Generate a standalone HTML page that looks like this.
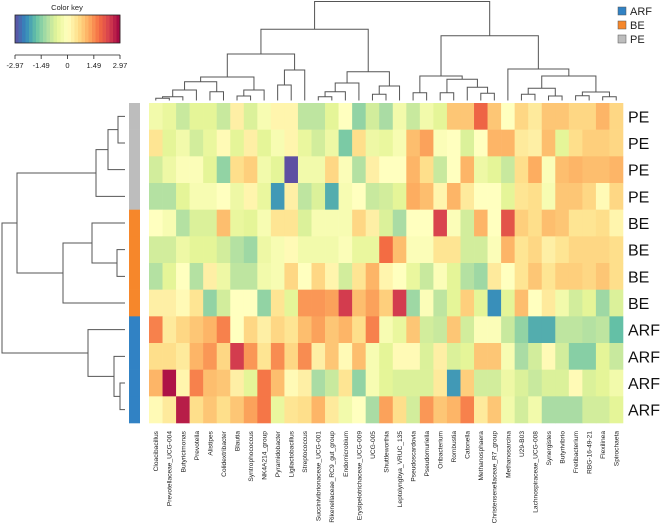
<!DOCTYPE html>
<html><head><meta charset="utf-8"><style>
html,body{margin:0;padding:0;background:#fff;}
svg{display:block;font-family:"Liberation Sans",sans-serif;}
</style></head><body>
<svg id="chart" width="669" height="525" viewBox="0 0 669 525" xmlns="http://www.w3.org/2000/svg"></svg>
<script>
const columns=["Cloacibacillus","Prevotellaceae_UCG-004","Butyricimonas","Prevotella","Alistipes","Colidextribacter","Blautia","Syntrophococcus","NK4A214_group","Pyramidobacter","Ligilactobacillus","Streptococcus","Succinivibrionaceae_UCG-001","Rikenellaceae_RC9_gut_group","Endomicrobium","Erysipelotrichaceae_UCG-009","UCG-005","Shuttleworthia","Leptolyngbya_VRUC_135","Pseudoscardovia","Pseudomuriella","Oribacterium","Rombustia","Catonella","Methanosphaera","Christensenellaceae_R7_group","Methanosarcina","U29-B03","Lachnospiraceae_UCG-008","Synergistes","Butyrivibrio","Fretibacterium","RBG-16-49-21","Flexilinea","Spirochaeta"];
const rowGroups=["PE","PE","PE","PE","BE","BE","BE","BE","ARF","ARF","ARF","ARF"];
const row0=[-0.3,-0.5,-0.9,-0.6,-0.6,-0.9,0.3,-0.7,-0.2,0.2,0.2,-1.0,-1.0,-0.6,0,-1.4,-0.8,-1.2,-0.3,-0.9,-0.3,-0.6,0.9,0.9,1.9,0.9,0.0,0.7,0.4,0.9,0.9,0.7,0.7,1.1,0.7];
const row1=[0.5,-0.6,-0.3,-0.8,-0.5,0.1,-0.6,0.3,-0.6,-0.2,0.2,-0.5,-0.8,-0.4,-1.6,0.6,-0.4,-0.5,-0.2,1.0,1.3,-0.1,0.0,-0.7,0.0,1.1,1.1,0.4,0.3,1.0,-0.6,0.6,0.8,0.8,0.7];
const row2=[-0.8,-0.4,-0.1,-0.1,-0.6,-1.4,0.6,0.8,-0.3,-0.6,-3.0,-0.3,-0.3,0.7,-0.1,-1.1,0.3,0.0,0.0,1.1,0.6,-0.9,0.0,1.1,-0.4,-0.6,-0.9,0.6,1.2,-0.1,1.0,1.1,1.0,1.0,1.1];
const row3=[-1.1,-1.1,-0.6,-0.2,-0.2,0,-0.4,0.2,-0.5,-2.2,0.3,-1.0,-0.7,-2.0,-0.2,0,-0.9,-0.8,-0.6,1.2,1.0,0.2,1.1,0.4,0.0,0.0,-0.6,0.5,0.6,-0.2,0.9,0.9,0.7,0.1,0.7];
const row4=[0.0,-0.2,-1.1,-0.7,-0.7,1.0,-0.5,-0.6,-0.2,0.5,0.5,-0.7,-0.2,-0.2,-0.2,0.7,0.3,-0.7,-1.2,0.0,0.0,2.3,-0.1,-0.8,1.1,0.0,2.1,0.8,0.6,1.0,0.9,0.5,0.5,0.6,0.2];
const row5=[-0.8,-0.8,-0.4,-0.6,-0.6,-0.8,-1.1,-1.3,-0.4,-0.2,0.1,-0.3,-0.3,-0.3,-0.1,-0.5,-0.5,1.8,1.0,-0.1,-0.1,0.5,0.5,-0.8,-0.8,-0.1,1.1,0.5,0.7,0.3,0.5,0.7,0.7,0.7,0.6];
const row6=[-1.1,-0.6,0.0,-1.1,0.3,-0.4,-1.0,-1.0,-0.3,-0.2,0.7,0.0,0.7,0.2,-0.8,0.5,1.1,0.2,0.0,-0.5,-0.9,-0.1,-0.6,-1.1,-1.3,0.4,0.0,0.5,0.9,0.5,0.8,0.8,0.7,0.9,0.6];
const row7=[0.3,0.3,0.1,0.5,-1.4,-0.8,0.0,0.0,-1.4,0.5,-0.6,1.4,1.4,1.3,2.4,1.0,1.3,0.8,2.4,-1.3,-0.1,-1.0,-0.6,0.8,-0.6,-2.3,-0.6,1.0,0.0,0.4,-0.3,-0.8,-0.6,-1.3,-0.7];
const row8=[1.6,0.4,0.7,0.9,1.1,1.6,0.0,0.7,0.3,0.7,0.5,1.0,1.3,0.9,1.1,0.6,1.6,-0.2,-0.5,0.9,-0.8,-0.9,0.9,-0.8,-0.1,-0.1,-0.9,-1.4,-2.0,-2.0,-1.0,-1.0,-1.1,-1.0,-1.8];
const row9=[0.6,0.6,0.4,1.1,1.4,0.7,2.4,1.4,0.5,1.5,0.7,1.5,0.3,0.9,0.1,1.0,-0.2,-0.6,0.1,0.1,-0.7,0.3,-0.7,-0.6,0.9,0.9,-0.2,-1.2,-0.8,0.1,-0.8,-1.5,-1.5,-0.6,-0.9];
const row10=[1.1,2.8,0.2,1.6,1.0,0.9,0.3,-0.6,1.7,1.0,0.1,0.3,-1.2,-0.9,0.5,-1.4,-0.2,-0.6,-0.7,-0.7,-0.7,0.4,-2.2,0.8,-0.8,-0.8,-0.4,-0.7,-0.9,-0.7,-0.7,0.1,-0.7,-0.6,-0.3];
const row11=[0.1,0.4,2.7,0.6,0.9,0.6,0.9,1.3,1.7,-0.5,0.5,0.6,1.1,0.4,-0.3,0.0,-1.2,1.3,0.6,-0.8,1.4,0.9,1.1,1.6,0.4,0.9,-0.3,-0.8,-0.3,-1.2,-1.2,-1.2,-0.8,-0.8,-0.6];
const keyTicks=[-2.97,-1.49,0,1.49,2.97];
const legendLabels=["ARF","BE","PE"];

const rows=[row0,row1,row2,row3,row4,row5,row6,row7,row8,row9,row10,row11];
const NS="http://www.w3.org/2000/svg";
const svg=document.getElementById('chart');
function mk(tag,attrs,parent){const e=document.createElementNS(NS,tag);for(const k in attrs)e.setAttribute(k,attrs[k]);(parent||svg).appendChild(e);return e;}
const pal=["#5e4fa2","#3288bd","#66c2a5","#abdda4","#e6f598","#ffffbf","#fee08b","#fdae61","#f46d43","#d53e4f","#9e0142"];
function hex(h){return [1,3,5].map(i=>parseInt(h.substr(i,2),16));}
function color(v){let t=(v+2.97)/5.94;t=Math.max(0,Math.min(1,t))*10;const i=Math.min(9,Math.floor(t)),f=t-i;const a=hex(pal[i]),b=hex(pal[i+1]);return 'rgb('+a.map((x,k)=>Math.round(x+(b[k]-x)*f)).join(',')+')';}
const X0=149,X1=623,Y0=103,Y1=423;
const cw=(X1-X0)/columns.length, rh=(Y1-Y0)/rows.length;
const xPos=i=>X0+i*cw, yPos=r=>Y0+r*rh;
const groupColor={ARF:"#3182c4",BE:"#f6872b",PE:"#bdbdbd"};

const gCells=mk('g',{});


rows.forEach((row,r)=>row.forEach((v,c)=>{
  const el=mk('rect',{x:xPos(c),y:yPos(r),width:cw+0.3,height:rh+0.3,fill:color(v)},gCells);
  
  
}));
rowGroups.forEach((g,r)=>{
  const el=mk('rect',{x:129,y:yPos(r),width:11,height:rh+0.3,fill:groupColor[g]});
  
  
  const t=mk('text',{x:628,y:yPos(r)+rh/2+6,'font-size':16,fill:'#111'});
  t.textContent=g;
  
  
});
columns.forEach((name,c)=>{
  const cx=xPos(c)+cw/2+2.4;
  const t=mk('text',{x:cx,y:431,'font-size':6.6,fill:'#222','text-anchor':'end',transform:'rotate(-90 '+cx+' 431)'});
  t.textContent=name;
  
  
});
const colTree={y:1.5,c:[
 {y:29.3,c:[
  {y:54,c:[
   {y:77,c:[
    {y:81.7,c:[{y:90,c:[{y:96.7,c:[{y:98.3,c:[0,1]},2]},3]},{y:91.7,c:[4,5]}]},
    {y:90,c:[{y:96,c:[6,7]},8]}]},
   {y:70,c:[{y:85,c:[9,10]},11]}]},
  {y:71.7,c:[
   {y:83,c:[{y:91.7,c:[{y:96.7,c:[12,13]},14]},15]},
   {y:86,c:[{y:94.3,c:[16,17]},18]}]}]},
 {y:35.7,c:[
  {y:76,c:[{y:92.7,c:[19,20]},{y:79.3,c:[{y:92.7,c:[21,22]},{y:87.3,c:[23,{y:93.3,c:[24,25]}]}]}]},
  {y:69,c:[26,{y:76,c:[{y:88.3,c:[{y:94.3,c:[27,28]},{y:96,c:[29,30]}]},{y:92,c:[{y:95.7,c:[31,32]},{y:96.7,c:[33,34]}]}]}]}]}]};
const gD=mk('g',{stroke:'#555','stroke-width':1,fill:'none'});


function drawCol(n){if(typeof n==='number')return {x:xPos(n)+cw/2,y:100.5};
 const a=drawCol(n.c[0]),b=drawCol(n.c[1]);
 mk('path',{d:`M${a.x},${a.y}V${n.y}H${b.x}V${b.y}`},gD);
 return {x:(a.x+b.x)/2,y:n.y};}
drawCol(colTree);
const rowTree={x:2,c:[{x:17,c:[{x:96,c:[{x:108,c:[{x:118,c:[0,1]},2]},3]},{x:63,c:[{x:92,c:[4,{x:117,c:[5,6]}]},7]}]},{x:88,c:[8,{x:114,c:[9,{x:120,c:[10,11]}]}]}]};
const gR=mk('g',{stroke:'#555','stroke-width':1,fill:'none'});


function drawRow(n){if(typeof n==='number')return {y:yPos(n)+rh/2,x:125};
 const a=drawRow(n.c[0]),b=drawRow(n.c[1]);
 mk('path',{d:`M${a.x},${a.y}H${n.x}V${b.y}H${b.x}`},gR);
 return {y:(a.y+b.y)/2,x:n.x};}
drawRow(rowTree);
const gK=mk('g',{});


const kt=mk('text',{x:67,y:10,'font-size':7.5,'text-anchor':'middle',fill:'#222'},gK);kt.textContent='Color key';
const KX0=15,KX1=120,N=30;
for(let i=0;i<N;i++){const v=-2.97+5.94*(i+0.5)/N;mk('rect',{x:KX0+(KX1-KX0)*i/N,y:15,width:(KX1-KX0)/N+0.3,height:28,fill:color(v)},gK);}
mk('rect',{x:KX0,y:15,width:KX1-KX0,height:28,fill:'none',stroke:'#222','stroke-width':0.8},gK);
keyTicks.forEach(t=>{const x=KX0+(t+2.97)/5.94*(KX1-KX0);
 mk('line',{x1:x,x2:x,y1:55,y2:59,stroke:'#222','stroke-width':0.8},gK);
 const tx=mk('text',{x:x,y:68,'font-size':7.5,'text-anchor':'middle',fill:'#222'},gK);
 tx.textContent=String(t);
 
 });
mk('line',{x1:KX0,x2:KX1,y1:55,y2:55,stroke:'#222','stroke-width':0.8},gK);
legendLabels.forEach((l,i)=>{
 const g=mk('g',{});
 
 
 mk('rect',{x:618,y:7+i*14,width:8,height:8,fill:groupColor[l],stroke:'#555','stroke-width':0.5},g);
 const t=mk('text',{x:630,y:15+i*14,'font-size':11,fill:'#222'},g);t.textContent=l;});
</script>
</body></html>
